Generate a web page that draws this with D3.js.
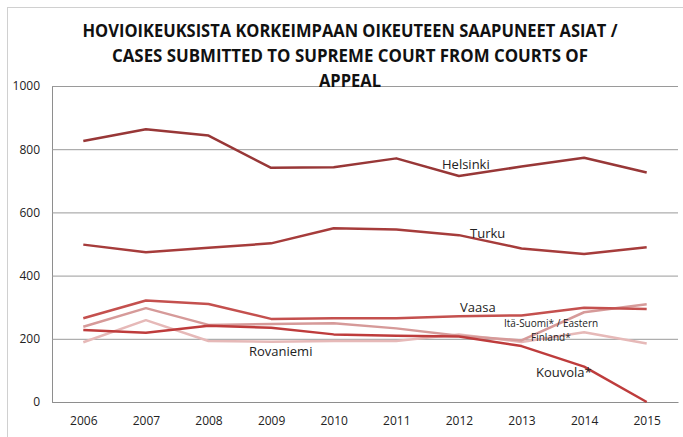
<!DOCTYPE html>
<html>
<head>
	<meta charset="utf-8">
	<title>Cases submitted to Supreme Court</title>
	<script src="https://cdnjs.cloudflare.com/ajax/libs/d3/7.8.5/d3.min.js"></script>
	<style>
		body { margin: 0; background: #fff; }
		svg { display: block; font-family: 'Open Sans', 'Noto Sans', sans-serif; }
		.tickLabel { font-size: 12px; fill: #222; }
		.lineLabel { font-size: 13px; fill: #222; }
	</style>
</head>
<body>
	<div id="chartDiv"></div>
	<script>
		// data
		const years = ['2006','2007','2008','2009','2010','2011','2012','2013','2014','2015'];
		const helsinki  = [826, 863, 843, 741, 743, 771, 715, 745, 773, 726];
		const turku     = [498, 474, 488, 502, 550, 546, 528, 486, 468, 490];
		const vaasa     = [265, 321, 310, 263, 265, 265, 271, 274, 298, 294];
		const itaSuomi  = [238, 297, 244, 247, 249, 233, 210, 195, 284, 309];
		const kouvola   = [228, 219, 241, 235, 214, 210, 207, 177, 112, 0];
		const rovaniemi = [189, 259, 193, 191, 193, 193, 214, 190, 221, 185];
		const yTicks = [0, 200, 400, 600, 800, 1000];
		const titleLines = [
			'HOVIOIKEUKSISTA KORKEIMPAAN OIKEUTEEN SAAPUNEET ASIAT /',
			'CASES SUBMITTED TO SUPREME COURT FROM COURTS OF',
			'APPEAL'
		];

		const series = [
			{ name: 'Rovaniemi', values: rovaniemi, color: '#e6b9b8' },
			{ name: 'Itä-Suomi', values: itaSuomi, color: '#d69a99' },
			{ name: 'Kouvola', values: kouvola, color: '#be3c3c' },
			{ name: 'Vaasa', values: vaasa, color: '#c4504e' },
			{ name: 'Turku', values: turku, color: '#a63c3b' },
			{ name: 'Helsinki', values: helsinki, color: '#983737' }
		];

		const width = 683, height = 437;
		const plot = { left: 52, right: 678, top: 86, bottom: 402 };

		const svg = d3.select('#chartDiv').append('svg')
			.attr('width', width)
			.attr('height', height);

		// outer chart border (partly out of frame)
		svg.append('rect')
			.attr('x', 7.5).attr('y', 7.5)
			.attr('width', width + 10).attr('height', height + 10)
			.attr('fill', 'none')
			.attr('stroke', '#d0d0d0');

		const xScale = d3.scalePoint()
			.domain(years)
			.range([plot.left, plot.right])
			.padding(0.5);

		const yScale = d3.scaleLinear()
			.domain([0, 1000])
			.range([plot.bottom, plot.top]);

		//gridlines + y labels
		const yAxis = d3.axisLeft(yScale)
			.tickValues(yTicks)
			.tickSize(-(plot.right - plot.left))
			.tickPadding(12)
			.tickFormat(d3.format('d'));

		const yAxisG = svg.append('g')
			.attr('transform', `translate(${plot.left},0)`)
			.call(yAxis);
		yAxisG.select('.domain').attr('stroke', '#8e8e8e');
		yAxisG.selectAll('.tick line').attr('stroke', '#9a9a9a').attr('stroke-width', 1);
		yAxisG.selectAll('.tick text')
			.attr('class', 'tickLabel')
			.attr('x', -12)
			.style('font-family', "'Open Sans', sans-serif")
			.style('font-size', '12px');

		const xAxis = d3.axisBottom(xScale)
			.tickSize(0)
			.tickPadding(14);

		const xAxisG = svg.append('g')
			.attr('transform', `translate(0,${plot.bottom})`)
			.call(xAxis);
		xAxisG.select('.domain').attr('stroke', '#8e8e8e');
		xAxisG.selectAll('.tick text')
			.attr('class', 'tickLabel')
			.style('font-family', "'Open Sans', sans-serif")
			.style('font-size', '12px');

		// lines
		const line = d3.line()
			.x((d, i) => xScale(years[i]))
			.y(d => yScale(d));

		svg.append('g').selectAll('path')
			.data(series)
			.enter().append('path')
			.attr('d', d => line(d.values))
			.attr('fill', 'none')
			.attr('stroke', d => d.color)
			.attr('stroke-width', 2.5)
			.attr('stroke-linejoin', 'round');

		// title
		svg.append('text')
			.attr('text-anchor', 'middle')
			.style('font-weight', 'bold')
			.style('font-size', '17px')
			.style('fill', '#111')
			.selectAll('tspan')
			.data(titleLines)
			.enter().append('tspan')
			.attr('x', 350)
			.attr('y', (d, i) => 37 + i * 25)
			.attr('textLength', (d, i) => [535, 476, 62][i])
			.attr('lengthAdjust', 'spacingAndGlyphs')
			.text(d => d);

		// line labels
		const labels = [
			{ text: 'Helsinki', x: 442, y: 169, size: 13 },
			{ text: 'Turku', x: 470, y: 238, size: 13 },
			{ text: 'Vaasa', x: 460, y: 312, size: 13 },
			{ text: 'Itä-Suomi* / Eastern', x: 504, y: 327, size: 10 },
			{ text: 'Finland*', x: 531, y: 341, size: 10 },
			{ text: 'Kouvola*', x: 536, y: 377, size: 13 },
			{ text: 'Rovaniemi', x: 249, y: 356, size: 13 }
		];
		svg.append('g').selectAll('text')
			.data(labels)
			.enter().append('text')
			.attr('class', 'lineLabel')
			.attr('x', d => d.x)
			.attr('y', d => d.y)
			.style('font-size', d => d.size + 'px')
			.text(d => d.text);
	</script>
</body>
</html>
